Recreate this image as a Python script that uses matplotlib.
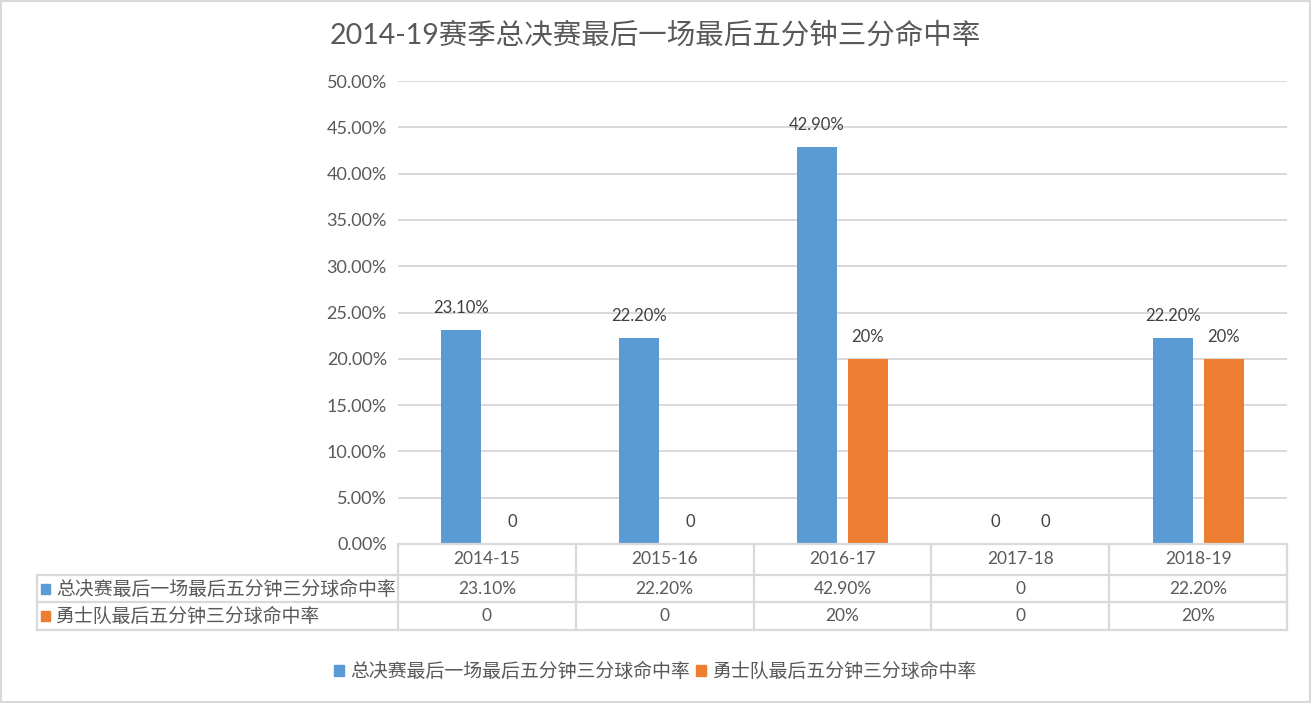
import matplotlib.pyplot as plt
import numpy as np
from matplotlib.patches import Patch, Rectangle
from matplotlib.ticker import FuncFormatter

plt.rcParams['font.family'] = ['Lato', 'Noto Sans CJK SC', 'DejaVu Sans']

# data
seasons = ['2014-15', '2015-16', '2016-17', '2017-18', '2018-19']
series_names = ['总决赛最后一场最后五分钟三分球命中率', '勇士队最后五分钟三分球命中率']
finals_pct = [0.231, 0.222, 0.429, 0.0, 0.222]
warriors_pct = [0.0, 0.0, 0.20, 0.0, 0.20]
finals_labels = ['23.10%', '22.20%', '42.90%', '0', '22.20%']
warriors_labels = ['0', '0', '20%', '0', '20%']
title = '2014-19赛季总决赛最后一场最后五分钟三分命中率'

blue = '#5B9BD5'
orange = '#ED7D31'
txt = '#595959'
grid = '#D9D9D9'

fig = plt.figure(figsize=(13.11, 7.03), dpi=100)
ax = fig.add_axes([398 / 1311, 1 - 544 / 703, 889 / 1311, 463 / 703])

x = np.arange(len(seasons))
w = 0.225
off = 0.143
ax.bar(x - off, finals_pct, w, color=blue, zorder=3)
ax.bar(x + off, warriors_pct, w, color=orange, zorder=3)

for xi, v, s in zip(x, finals_pct, finals_labels):
    ax.annotate(s, (xi - off, v), xytext=(0, 16), textcoords='offset points',
                ha='center', va='center', fontsize=12, color='#404040')
for xi, v, s in zip(x, warriors_pct, warriors_labels):
    ax.annotate(s, (xi + off, v), xytext=(0, 16), textcoords='offset points',
                ha='center', va='center', fontsize=12, color='#404040')

ax.set_xlim(-0.5, len(seasons) - 0.5)
ax.set_ylim(0, 0.5)
ax.set_yticks(np.arange(0, 0.501, 0.05))
ax.yaxis.set_major_formatter(FuncFormatter(lambda v, p: '{:.2f}%'.format(v * 100)))
ax.tick_params(axis='y', length=0, labelsize=13, labelcolor=txt, pad=8)
ax.set_xticks([])
ax.grid(axis='y', color=grid, lw=1.4, zorder=0)
for sp in ax.spines.values():
    sp.set_visible(False)

# data table under the plot
tx = ax.get_xaxis_transform()
ta = ax.transAxes
row_y = [0, -31 / 463, -58 / 463, -86 / 463]
label_left = (37 - 398) / 889
lk = dict(color=grid, lw=1.6, clip_on=False, zorder=4)
ax.plot([-0.5, len(seasons) - 0.5], [0, 0], transform=tx, **lk)
for yy in row_y[1:]:
    ax.plot([label_left, 1], [yy, yy], transform=ta, **lk)
for b in np.arange(len(seasons) + 1) - 0.5:
    ax.plot([b, b], [0, row_y[-1]], transform=tx, **lk)
ax.plot([label_left, label_left], [row_y[1], row_y[-1]], transform=ta, **lk)

mid = [(row_y[i] + row_y[i + 1]) / 2 for i in range(3)]
for xi, s in zip(x, seasons):
    ax.text(xi, mid[0], s, transform=tx, ha='center', va='center', fontsize=12.5, color=txt)
for xi, s in zip(x, finals_labels):
    ax.text(xi, mid[1], s, transform=tx, ha='center', va='center', fontsize=12.5, color=txt)
for xi, s in zip(x, warriors_labels):
    ax.text(xi, mid[2], s, transform=tx, ha='center', va='center', fontsize=12.5, color=txt)
for r, (name, c) in enumerate(zip(series_names, [blue, orange])):
    ax.add_patch(Rectangle((label_left + 4 / 889, mid[r + 1] - 5 / 463), 9 / 889, 10 / 463,
                           transform=ta, color=c, clip_on=False))
    ax.text(label_left + 19 / 889, mid[r + 1], name, transform=ta, ha='left', va='center',
            fontsize=13.6, color=txt)

fig.suptitle(title, x=0.5, y=1 - 35 / 703, va='center', fontsize=20.5, color=txt)

handles = [Patch(color=blue), Patch(color=orange)]
fig.legend(handles, series_names, loc='center', bbox_to_anchor=(0.5, 1 - 671 / 703), ncol=2,
           frameon=False, fontsize=13.6, handlelength=0.55, handleheight=0.55,
           handletextpad=0.35, columnspacing=0.3, labelcolor=txt)

fig.patches.append(Rectangle((0.001, 0.002), 0.998, 0.996, transform=fig.transFigure,
                             fill=False, edgecolor=grid, lw=1.5))

fig.savefig('out.png', dpi=100)
